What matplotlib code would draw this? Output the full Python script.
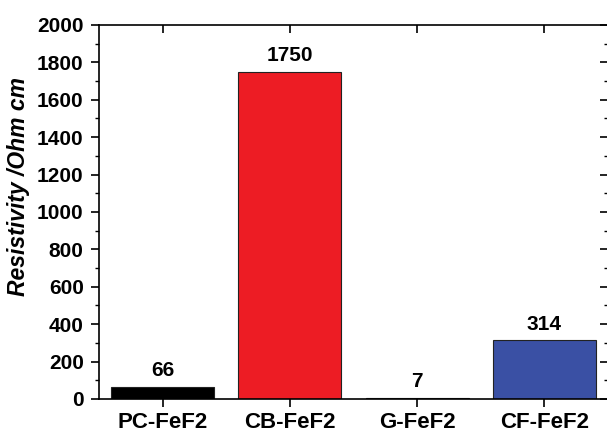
import matplotlib
matplotlib.use('Agg')
import matplotlib.pyplot as plt
from matplotlib.ticker import MultipleLocator

plt.rcParams['font.family'] = ['Liberation Sans', 'DejaVu Sans']
plt.rcParams['font.weight'] = 'bold'

# data
samples = ['PC-FeF2', 'CB-FeF2', 'G-FeF2', 'CF-FeF2']
resistivity = [66, 1750, 7, 314]
bar_colors = ['#000000', '#ED1C24', '#1E7A3A', '#3A50A4']

fig = plt.figure(figsize=(6.07, 4.32), dpi=100)
ax = fig.add_axes([0.1631, 0.0764, 0.8386, 0.8658])

pos = list(range(1, len(samples) + 1))
bars = ax.bar(pos, resistivity, width=0.81, color=bar_colors, edgecolor='#222222', lw=0.8)
for x, v in zip(pos, resistivity):
  ax.annotate(f"{v}", (x, v), xytext=(0, 4.5), textcoords='offset points',
              ha='center', va='bottom', fontsize=15, fontweight='bold')

ax.set_xlim(0.5, 4.5)
ax.set_ylim(0, 2000)
ax.set_xticks(pos)
ax.set_xticklabels(samples, fontsize=16)
ax.yaxis.set_major_locator(MultipleLocator(200))
ax.yaxis.set_minor_locator(MultipleLocator(100))

ax.tick_params(axis='both', which='major', width=1.2, length=6, direction='out')
ax.tick_params(axis='y', which='major', labelsize=15, pad=5)
ax.tick_params(axis='y', which='minor', width=1.0, length=3, direction='out')
ax.tick_params(top=True, right=True, which='both')
ax.tick_params(axis='x', which='major', top=True, bottom=True)

# ticks on the top and right sides point inward
for t in ax.xaxis.get_major_ticks():
  t.tick2line.set_marker(matplotlib.lines.TICKDOWN)
for t in ax.yaxis.get_major_ticks() + ax.yaxis.get_minor_ticks():
  t.tick2line.set_marker(matplotlib.lines.TICKLEFT)

for s in ax.spines.values():
  s.set_linewidth(1.2)

ax.set_ylabel('Resistivity /Ohm cm', fontsize=16.5, fontweight='bold', fontstyle='italic')
ax.yaxis.set_label_coords(-0.136, 0.567)

fig.savefig('out.png', dpi=100)
